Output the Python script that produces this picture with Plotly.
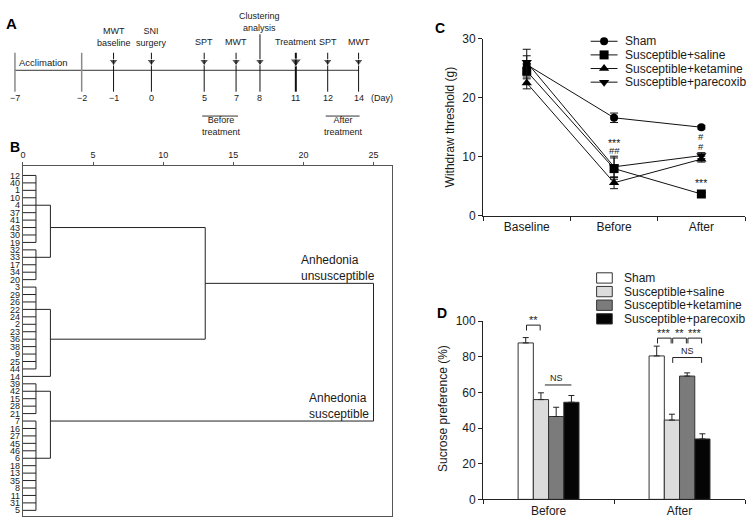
import plotly.graph_objects as go

W, H = 752, 531
FONT = "Liberation Sans, Arial, Helvetica, sans-serif"
INK = "#1a1a1a"

# ======================= DATA =======================
# Panel A: experimental timeline
timeline_days = ["\u22127", "\u22122", "\u22121", "0", "5", "7", "8", "11", "12", "14"]
timeline_events = ["", "", "MWT<br>baseline", "SNI<br>surgery", "SPT", "MWT",
                   "Clustering<br>analysis", "Treatment", "SPT", "MWT"]
timeline_phases = ["Acclimation", "Before<br>treatment", "After<br>treatment"]

# Panel B: hierarchical clustering (rescaled distance)
leaf_labels = ["12", "40", "1", "10", "4", "37", "41", "43", "30", "19",
               "32", "33", "17", "34", "20", "3", "29", "26", "22", "24",
               "2", "23", "36", "38", "9", "25", "44", "14", "39", "42",
               "15", "28", "21", "7", "16", "27", "45", "46", "6", "18",
               "13", "35", "8", "11", "31", "5"]
merge_heights = {"L1": 0.93, "L2": 1.96, "L3": 13.0, "L4": 25.0}
# (level, children, link row); ints are leaf positions
dendro_tree = ("L4", [
    ("L3", [
        ("L2", [("L1", list(range(0, 10)), 4), ("L1", list(range(10, 15)), 11)], 7),
        ("L2", [("L1", list(range(15, 27)), 18), 27], 22),
    ], 14.5),
    ("L2", [("L1", list(range(28, 33)), 29), ("L1", list(range(33, 46)), 38)], 33),
], None)
cluster_names = ["Anhedonia<br>unsusceptible", "Anhedonia<br>susceptible"]

# Panel C: mechanical withdrawal threshold (g)
c_categories = ["Baseline", "Before", "After"]
group_names = ["Sham", "Susceptible+saline", "Susceptible+ketamine", "Susceptible+parecoxib"]
c_sham = [25.6, 16.6, 15.0]
c_sham_err = [1.5, 0.8, 0.3]
c_saline = [24.5, 8.0, 3.7]
c_saline_err = [1.3, 1.8, 0.3]
c_ketamine = [22.5, 5.6, 9.6]
c_ketamine_err = [1.0, 1.0, 0.5]
c_parecoxib = [26.0, 8.3, 10.2]
c_parecoxib_err = [2.2, 1.8, 0.5]
c_marks = [("Before", 12.5, "***"), ("Before", 11.0, "##"),
           ("After", 13.4, "#"), ("After", 11.8, "#"), ("After", 5.8, "***")]

# Panel D: sucrose preference (%)
d_categories = ["Before", "After"]
d_sham = [87.8, 80.5]
d_sham_err = [3.0, 5.5]
d_saline = [56.0, 44.5]
d_saline_err = [3.8, 3.3]
d_ketamine = [46.5, 69.2]
d_ketamine_err = [5.2, 1.8]
d_parecoxib = [54.5, 33.9]
d_parecoxib_err = [3.8, 2.9]
# (category index, bar a, bar b, label, height, has legs)
d_brackets = [(0, 0, 1, "**", 97.8, True), (0, 1, 3, "NS", 64.2, False),
              (1, 0, 1, "***", 90.5, True), (1, 1, 2, "**", 90.5, True),
              (1, 2, 3, "***", 90.5, True), (1, 1, 3, "NS", 79.6, True)]

# ======================= STYLE / LAYOUT CONSTANTS =======================
def px(x):
    return x / W

def py(y):
    return 1 - y / H

tl_pos = [12, 79, 111, 149, 202, 234, 258, 294, 326, 357]   # schematic x of timeline stops
tl_label_y = [None, None, 30.5, 30.5, 36, 36, 15.5, 36, 36, 36]
c_styles = [("circle", 8), ("square", 9), ("triangle-up", 9), ("triangle-down", 9)]
d_colors = ["#ffffff", "#dcdcdc", "#7b7b7b", "#050505"]
BARGAP = 0.535

fig = go.Figure()
annotations = []
shapes = []

# ---------------- Panel D (x / y) ----------------
d_vals = [d_sham, d_saline, d_ketamine, d_parecoxib]
d_errs = [d_sham_err, d_saline_err, d_ketamine_err, d_parecoxib_err]
for name, vals, errs, col in zip(group_names, d_vals, d_errs, d_colors):
    fig.add_trace(go.Bar(
        x=d_categories, y=vals, name=name, xaxis="x", yaxis="y", showlegend=False,
        marker=dict(color=col, line=dict(color="#333", width=1)),
        error_y=dict(type="data", array=errs, arrayminus=[0] * len(errs), symmetric=False,
                     color="#222", thickness=1, width=3)))

bw = (1 - BARGAP) / len(group_names)
def bar_x(ci, k):
    return ci + (k - (len(group_names) - 1) / 2) * bw

for ci, a, b, lab, h, legs in d_brackets:
    x0, x1 = bar_x(ci, a), bar_x(ci, b)
    if legs:
        x0 += 0.006
        x1 -= 0.006
        leg = 3.0
        shapes.append(dict(type="path", xref="x", yref="y",
                           path=f"M {x0},{h-leg} L {x0},{h} L {x1},{h} L {x1},{h-leg}",
                           line=dict(color="#222", width=1)))
    else:
        shapes.append(dict(type="line", xref="x", yref="y", x0=x0 + 0.03, x1=x1, y0=h, y1=h,
                           line=dict(color="#222", width=1)))
    stars = lab.startswith("*")
    annotations.append(dict(xref="x", yref="y", x=(x0 + x1) / 2, y=min(h, 99.9),
                            text=lab, showarrow=False,
                            font=dict(size=11 if stars else 9, color=INK),
                            yshift=5.5 if stars else 6.5))

# ---------------- Panel C (x2 / y2) ----------------
c_vals = [c_sham, c_saline, c_ketamine, c_parecoxib]
c_errs = [c_sham_err, c_saline_err, c_ketamine_err, c_parecoxib_err]
for name, vals, errs, (sym, sz) in zip(group_names, c_vals, c_errs, c_styles):
    fig.add_trace(go.Scatter(
        x=c_categories, y=vals, name=name, mode="lines+markers", xaxis="x2", yaxis="y2",
        showlegend=False, cliponaxis=False,
        line=dict(color="#111", width=1),
        marker=dict(symbol=sym, size=sz, color="#000"),
        error_y=dict(type="data", array=errs, color="#111", thickness=1, width=4)))
for cat, yv, lab in c_marks:
    stars = lab.startswith("*")
    annotations.append(dict(xref="x2", yref="y2", x=cat, y=yv, text=lab, showarrow=False,
                            font=dict(size=10.5 if stars else 9.5, color=INK),
                            yshift=-1 if stars else 0))

# ---------------- Panel B (x3 / y3) ----------------
seg_x, seg_y = [], []

def walk(node):
    if isinstance(node, int):
        return node, 0.0
    level, children, row = node
    h = merge_heights[level]
    res = [walk(c) for c in children]
    rows = [r for r, _ in res]
    seg_x.extend([h, h, None])
    seg_y.extend([min(rows), max(rows), None])
    for r, ch in res:
        seg_x.extend([ch, h, None])
        seg_y.extend([r, r, None])
    return row, h

walk(dendro_tree)
fig.add_trace(go.Scatter(x=seg_x, y=seg_y, mode="lines", xaxis="x3", yaxis="y3",
                         showlegend=False, line=dict(color="#222", width=1), hoverinfo="skip"))
annotations.append(dict(xref="x3", yref="y3", x=19.7, y=12.5, text=cluster_names[0],
                        showarrow=False, xanchor="left", align="left",
                        font=dict(size=12, color=INK)))
annotations.append(dict(xref="x3", yref="y3", x=20.25, y=31.0, text=cluster_names[1],
                        showarrow=False, xanchor="left", align="left",
                        font=dict(size=12, color=INK)))

# ---------------- Panel A + manual legends on pixel overlay (x4 / y4) ----------------
fig.add_trace(go.Scatter(x=[tl_pos[0], tl_pos[-1]], y=[65, 65], mode="lines", xaxis="x4", yaxis="y4",
                         showlegend=False, line=dict(color="#333", width=1), hoverinfo="skip"))
bx, by, ax_, asz = [], [], [], []
for i, (xp, ev) in enumerate(zip(tl_pos, timeline_events)):
    if ev == "":
        bx.extend([xp, xp, None]); by.extend([47, 87, None])
    else:
        top = 28 if "Clustering" in ev else 47
        w = 2 if ev == "Treatment" else 1
        fig.add_trace(go.Scatter(x=[xp, xp], y=[top, 87], mode="lines", xaxis="x4", yaxis="y4",
                                 showlegend=False, line=dict(color="#111", width=w), hoverinfo="skip"))
        ax_.append(xp)
        asz.append(10 if ev == "Treatment" else 8)
        annotations.append(dict(xref="x4", yref="y4", x=xp, y=tl_label_y[i], text=ev,
                                showarrow=False, font=dict(size=9, color=INK)))
    annotations.append(dict(xref="x4", yref="y4", x=xp, y=93, text=timeline_days[i],
                            showarrow=False, font=dict(size=9, color=INK)))
fig.add_trace(go.Scatter(x=bx, y=by, mode="lines", xaxis="x4", yaxis="y4", showlegend=False,
                         line=dict(color="#8a8a8a", width=1.5), hoverinfo="skip"))
fig.add_trace(go.Scatter(x=ax_, y=[56] * len(ax_), mode="markers", xaxis="x4", yaxis="y4",
                         showlegend=False, hoverinfo="skip",
                         marker=dict(symbol="triangle-down", size=asz, color="#111")))
annotations.append(dict(xref="x4", yref="y4", x=367, y=93, text="(Day)", showarrow=False,
                        xanchor="left", font=dict(size=9, color=INK)))
annotations.append(dict(xref="x4", yref="y4", x=41, y=57, text=timeline_phases[0], showarrow=False,
                        font=dict(size=9.5, color=INK)))
for (xa, xb), lab in zip([(tl_pos[4] - 2, tl_pos[5] + 2), (tl_pos[8] - 2, tl_pos[9] + 1)], timeline_phases[1:]):
    fig.add_trace(go.Scatter(x=[xa, xb], y=[112, 112], mode="lines", xaxis="x4", yaxis="y4",
                             showlegend=False, line=dict(color="#333", width=1), hoverinfo="skip"))
    annotations.append(dict(xref="x4", yref="y4", x=(xa + xb) / 2 + 1, y=122.5, text=lab,
                            showarrow=False, font=dict(size=9, color=INK)))

# legend C (lines + markers)
for i, (name, (sym, sz)) in enumerate(zip(group_names, c_styles)):
    ry = 35.2 + 14 * i
    fig.add_trace(go.Scatter(x=[590, 617], y=[ry, ry], mode="lines", xaxis="x4", yaxis="y4",
                             showlegend=False, line=dict(color="#111", width=1), hoverinfo="skip"))
    fig.add_trace(go.Scatter(x=[603.5], y=[ry], mode="markers", xaxis="x4", yaxis="y4",
                             showlegend=False, marker=dict(symbol=sym, size=sz, color="#000"),
                             hoverinfo="skip"))
    annotations.append(dict(xref="x4", yref="y4", x=622, y=ry, text=name, showarrow=False,
                            xanchor="left", font=dict(size=12, color=INK)))
# legend D (boxes)
for i, (name, col) in enumerate(zip(group_names, d_colors)):
    ry = 278.3 + 14 * i
    shapes.append(dict(type="rect", xref="x4", yref="y4", x0=596, x1=611.7, y0=ry - 5.3, y1=ry + 5.3,
                       fillcolor=col, line=dict(color="#333", width=1)))
    annotations.append(dict(xref="x4", yref="y4", x=621.5, y=ry, text=name, showarrow=False,
                            xanchor="left", font=dict(size=12, color=INK)))

# panel letters and axis titles
for lab, xp, yp, sz in [("A", 9, 17, 15), ("B", 12, 144, 14), ("C", 439, 22, 14), ("D", 441, 314, 14)]:
    annotations.append(dict(xref="x4", yref="y4", x=xp, y=yp, text=f"<b>{lab}</b>", showarrow=False,
                            font=dict(size=sz, color="#000")))
annotations.append(dict(xref="x4", yref="y4", x=449, y=123.5, text="Withdraw threshold (g)",
                        showarrow=False, textangle=-90, font=dict(size=12, color=INK)))
annotations.append(dict(xref="x4", yref="y4", x=441.5, y=412, text="Sucrose preference (%)",
                        showarrow=False, textangle=-90, font=dict(size=12, color=INK)))

axis_common = dict(showgrid=False, zeroline=False, showline=True, linecolor="#222", linewidth=1,
                   tickcolor="#222", ticklen=4, tickwidth=1, fixedrange=True,
                   tickfont=dict(size=12, color=INK))

fig.update_layout(
    width=W, height=H, margin=dict(l=0, r=0, t=0, b=0), autosize=False,
    paper_bgcolor="white", plot_bgcolor="rgba(0,0,0,0)",
    font=dict(family=FONT, color=INK), showlegend=False,
    barmode="group", bargap=BARGAP, bargroupgap=0,
    xaxis=dict(domain=[px(482), px(745)], anchor="y", type="category", range=[-0.5, 1.5],
               tickson="boundaries", ticks="outside", **axis_common),
    yaxis=dict(domain=[py(505.7), py(322.7)], anchor="x", range=[0, 100], dtick=20,
               ticks="outside", **axis_common),
    xaxis2=dict(domain=[px(482), px(745)], anchor="y2", type="category", range=[-0.5, 2.5],
                tickson="boundaries", ticks="outside", **axis_common),
    yaxis2=dict(domain=[py(214.5), py(32.5)], anchor="x2", range=[0, 30], dtick=10,
                ticks="outside", **axis_common),
    xaxis3=dict(domain=[px(20), px(391)], anchor="y3", side="top", range=[0, 26.35],
                tickvals=[0, 5, 10, 15, 20, 25], ticks="outside", ticklen=3, mirror=True,
                showgrid=False, zeroline=False, showline=True, linecolor="#555", tickcolor="#555",
                fixedrange=True, tickfont=dict(size=9, color=INK)),
    yaxis3=dict(domain=[py(523), py(163)], anchor="x3", range=[45.79, -1.31],
                tickvals=list(range(len(leaf_labels))), ticktext=leaf_labels, ticks="",
                mirror=True, showgrid=False, zeroline=False, showline=True, linecolor="#555",
                fixedrange=True, tickfont=dict(size=9, color=INK)),
    xaxis4=dict(domain=[0, 1], anchor="y4", range=[0, W], visible=False, fixedrange=True),
    yaxis4=dict(domain=[0, 1], anchor="x4", range=[H, 0], visible=False, fixedrange=True),
    annotations=annotations, shapes=shapes,
)

fig.write_html("out.html", config={"displayModeBar": False},
               post_script="document.body.style.margin='0';document.body.style.overflow='hidden';")
